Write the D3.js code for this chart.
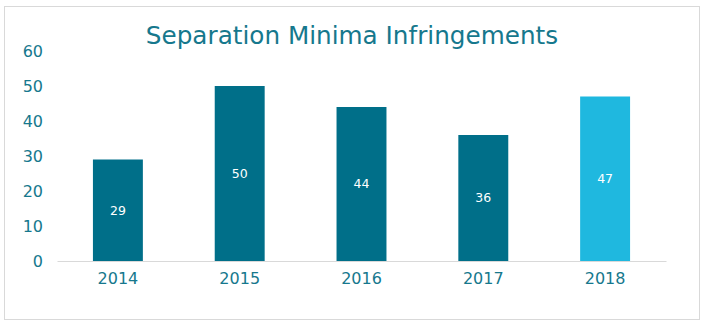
<!DOCTYPE html>
<html><head><meta charset="utf-8">
<script src="https://cdn.jsdelivr.net/npm/d3@7"></script>
<style>body{margin:0;background:#fff;}svg{display:block;font-family:"DejaVu Sans",sans-serif;}</style>
</head><body><svg id="c" width="707" height="326"></svg>
<script>
const title = "Separation Minima Infringements";
const categories = ["2014","2015","2016","2017","2018"];
const values = [29, 50, 44, 36, 47];
const highlight = ["2018"];
const yTicks = [0,10,20,30,40,50,60];

const svg = d3.select("#c");
const textColor = "#16788d", dark = "#006f89", light = "#1fb8df";
svg.append("rect").attr("x",4.5).attr("y",6.5).attr("width",695).attr("height",313)
  .attr("fill","#fff").attr("stroke","#d9d9d9");
svg.append("text").attr("x",352).attr("y",44).attr("text-anchor","middle")
  .attr("fill",textColor).attr("font-size",24.7).text(title);

const x = d3.scaleBand().domain(categories).range([57,666]).paddingInner(0.59).paddingOuter(0.295);
const y = d3.scaleLinear().domain([0,60]).range([261,51]);

const yAxis = svg.append("g").attr("transform","translate(50,0)")
  .call(d3.axisLeft(y).tickValues(yTicks).tickSize(0).tickPadding(7));
yAxis.select(".domain").remove();
yAxis.selectAll("text").attr("fill",textColor).attr("font-size",16).attr("font-family","DejaVu Sans");

svg.selectAll("rect.bar").data(categories).join("rect").attr("class","bar")
  .attr("x",d=>x(d)).attr("width",x.bandwidth())
  .attr("y",(d,i)=>y(values[i])).attr("height",(d,i)=>y(0)-y(values[i]))
  .attr("fill",d=>highlight.includes(d)?light:dark);

svg.selectAll("text.lbl").data(categories).join("text").attr("class","lbl")
  .attr("x",d=>x(d)+x.bandwidth()/2).attr("y",(d,i)=>(y(values[i])+y(0))/2)
  .attr("dy","0.35em").attr("text-anchor","middle").attr("fill","#fff").attr("font-size",12.5)
  .text((d,i)=>values[i]);

const xAxis = svg.append("g").attr("transform","translate(0,261)")
  .call(d3.axisBottom(x).tickSize(0).tickPadding(12));
xAxis.select(".domain").attr("stroke","#d9d9d9");
xAxis.selectAll("text").attr("fill",textColor).attr("font-size",16).attr("font-family","DejaVu Sans");
</script></body></html>
